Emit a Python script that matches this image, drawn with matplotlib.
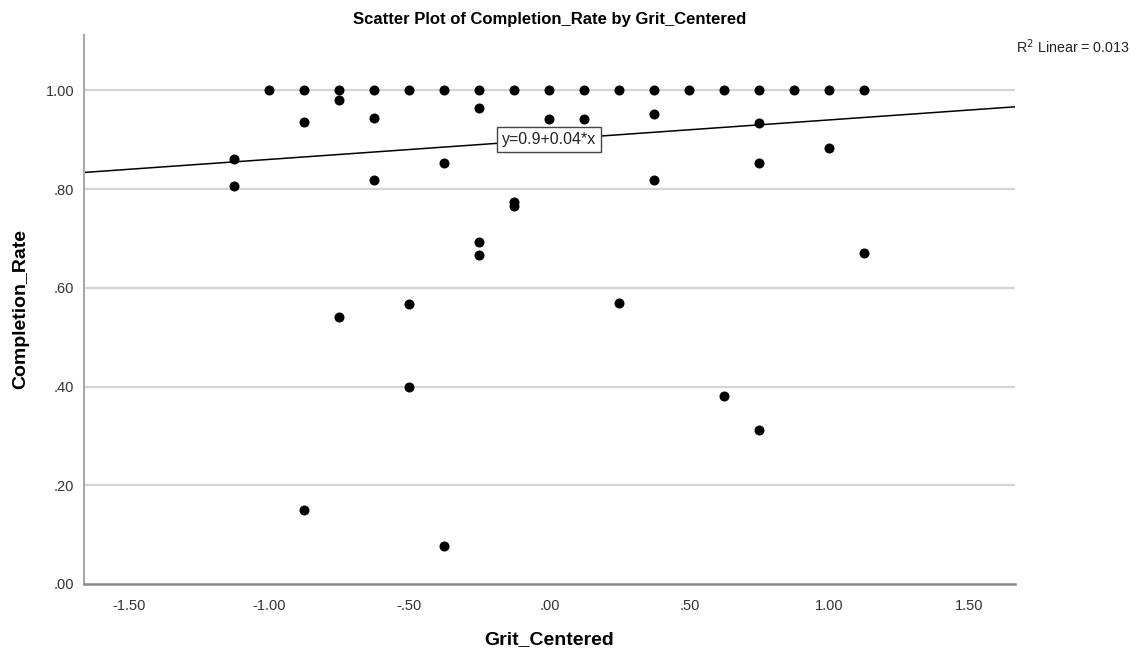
import numpy as np
import matplotlib.pyplot as plt

plt.rcParams["font.family"] = ["Liberation Sans", "DejaVu Sans"]

# Grit_Centered values and Completion_Rate per respondent
grit = [-1.125, -1.125,
        -1.0,
        -0.875, -0.875, -0.875,
        -0.75, -0.75, -0.75,
        -0.625, -0.625, -0.625,
        -0.5, -0.5, -0.5,
        -0.375, -0.375, -0.375,
        -0.25, -0.25, -0.25, -0.25,
        -0.125, -0.125, -0.125,
        0.0, 0.0,
        0.125, 0.125,
        0.25, 0.25,
        0.375, 0.375, 0.375,
        0.5,
        0.625, 0.625,
        0.75, 0.75, 0.75, 0.75,
        0.875,
        1.0, 1.0,
        1.125, 1.125]
completion = [0.860, 0.806,
              1.0,
              1.0, 0.935, 0.150,
              1.0, 0.981, 0.541,
              1.0, 0.944, 0.819,
              1.0, 0.567, 0.400,
              1.0, 0.853, 0.077,
              1.0, 0.964, 0.693, 0.667,
              1.0, 0.773, 0.765,
              1.0, 0.941,
              1.0, 0.941,
              1.0, 0.570,
              1.0, 0.951, 0.818,
              1.0,
              1.0, 0.381,
              1.0, 0.934, 0.852, 0.312,
              1.0,
              1.0, 0.883,
              1.0, 0.671]

intercept, slope = 0.9, 0.04
r2 = 0.013

x_ticks = [-1.5, -1.0, -0.5, 0.0, 0.5, 1.0, 1.5]
y_ticks = [0.0, 0.2, 0.4, 0.6, 0.8, 1.0]


def fmt(v):
    s = f"{v:.2f}"
    return s.replace("0.", ".", 1) if abs(v) < 1 else s


fig = plt.figure(figsize=(11.39, 6.55), dpi=100)
ax = fig.add_axes([0.0737, 0.1084, 0.8173, 0.8382])

xlim = (-1.662, 1.662)
ax.set_xlim(xlim)
ax.set_ylim(0, 1.112)

for y in y_ticks[1:]:
    ax.axhline(y, color="#d4d4d4", lw=1.6, zorder=0)

xs = np.array(xlim)
ax.plot(xs, intercept + slope * xs, color="black", lw=1.1, zorder=2)

ax.scatter(grit, completion, s=52, color="black", zorder=3, linewidths=0)

ax.text(0.0, 0.9, "y=0.9+0.04*x", ha="center", va="center", fontsize=11.5,
        color="#222222", zorder=4,
        bbox=dict(boxstyle="square,pad=0.3", fc="white", ec="#444444", lw=1))

ax.set_xticks(x_ticks)
ax.set_xticklabels([fmt(v) for v in x_ticks])
ax.set_yticks(y_ticks)
ax.set_yticklabels([fmt(v) for v in y_ticks])
ax.tick_params(length=0, labelsize=10.5, labelcolor="#333333", pad=7)
ax.tick_params(axis="x", pad=11)

for side in ("top", "right"):
    ax.spines[side].set_visible(False)
ax.spines["left"].set_color("#a8a8a8")
ax.spines["left"].set_linewidth(1.5)
ax.spines["bottom"].set_color("#888888")
ax.spines["bottom"].set_linewidth(1.8)

ax.set_title("Scatter Plot of Completion_Rate by Grit_Centered",
             fontsize=12, fontweight="bold", pad=8)
ax.set_xlabel("Grit_Centered", fontsize=14, fontweight="bold", labelpad=13)
ax.set_ylabel("Completion_Rate", fontsize=14, fontweight="bold", labelpad=12)

fig.text(0.992, 0.928, f"R$^2$ Linear = {r2:.3f}", ha="right", va="center",
         fontsize=10.3, color="#222222")

fig.savefig("out.png", dpi=100)
